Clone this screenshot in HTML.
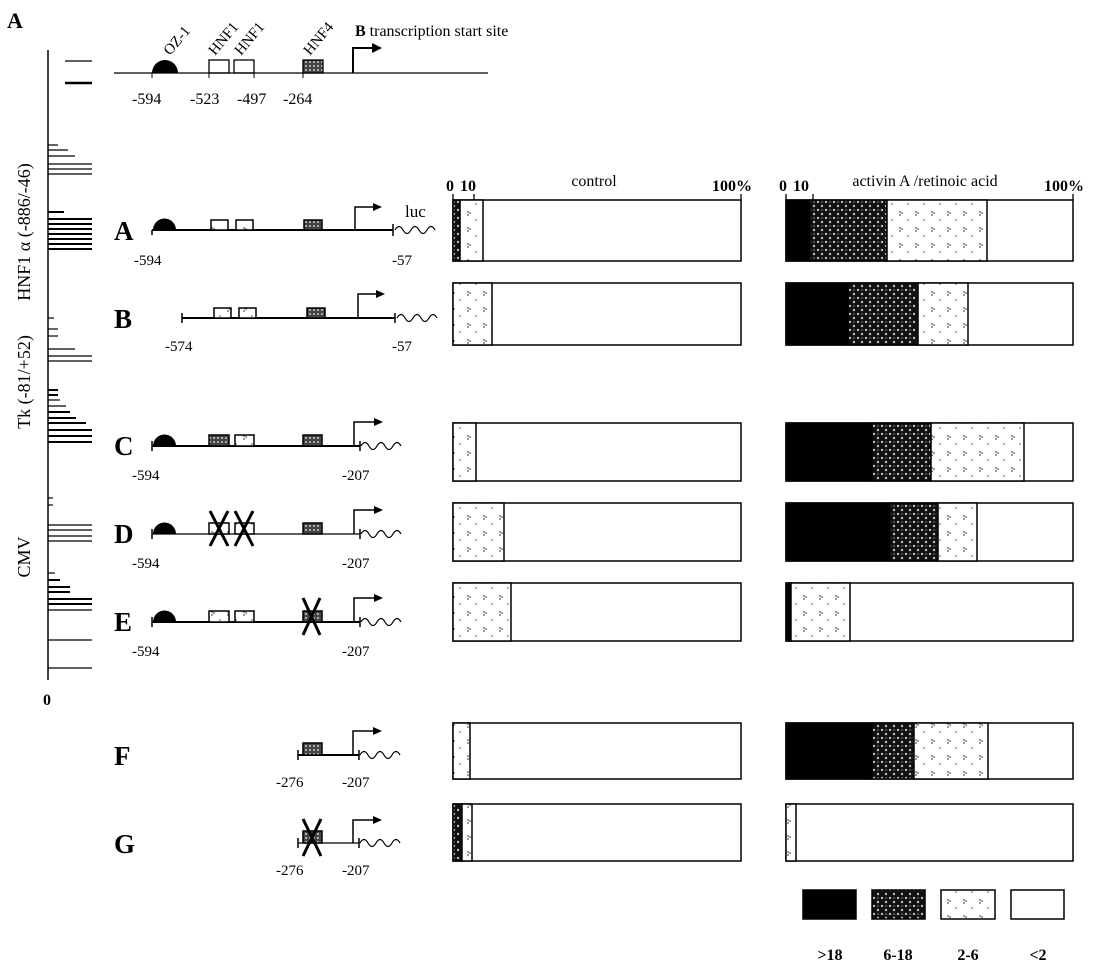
<!DOCTYPE html>
<html><head><meta charset="utf-8"><style>
html,body{margin:0;padding:0;background:#fff;}
svg{display:block;}
text{font-family:"Liberation Serif",serif;fill:#000;}
</style></head><body>
<svg width="1115" height="970" viewBox="0 0 1115 970" xmlns="http://www.w3.org/2000/svg">
<defs>
<pattern id="dk" width="8" height="8" patternUnits="userSpaceOnUse"><rect width="8" height="8" fill="#111"/><circle cx="2" cy="2" r="1.2" fill="#bbb"/><circle cx="6" cy="6" r="1.2" fill="#bbb"/><circle cx="6" cy="2" r="0.8" fill="#999"/></pattern>
<pattern id="dt" width="16" height="16" patternUnits="userSpaceOnUse"><rect width="16" height="16" fill="#fff"/><circle cx="4" cy="4" r="0.9" fill="#555"/><circle cx="6" cy="5" r="0.9" fill="#555"/><circle cx="4" cy="7" r="0.9" fill="#555"/><circle cx="12" cy="12" r="0.9" fill="#777"/></pattern>
<pattern id="bx" width="4" height="4" patternUnits="userSpaceOnUse"><rect width="4" height="4" fill="#444"/><circle cx="2" cy="2" r="1" fill="#ccc"/></pattern>
</defs>
<g stroke="#000" fill="none">
<line x1="48" y1="50" x2="48" y2="680" stroke-width="1.5"/>
<g stroke-width="1.2">
<line x1="65" y1="61" x2="92" y2="61"/><line x1="65" y1="83" x2="92" y2="83" stroke-width="2.5"/>
<line x1="48" y1="145" x2="58" y2="145"/><line x1="48" y1="150" x2="68" y2="150"/><line x1="48" y1="156" x2="75" y2="156"/>
<line x1="48" y1="164" x2="92" y2="164"/><line x1="48" y1="169" x2="92" y2="169"/><line x1="48" y1="174" x2="92" y2="174"/>
<line x1="48" y1="212" x2="64" y2="212" stroke-width="2"/>
<line x1="48" y1="219" x2="92" y2="219" stroke-width="2"/><line x1="48" y1="224" x2="92" y2="224" stroke-width="2"/><line x1="48" y1="229" x2="92" y2="229" stroke-width="2"/><line x1="48" y1="234" x2="92" y2="234" stroke-width="2"/><line x1="48" y1="239" x2="92" y2="239" stroke-width="2"/><line x1="48" y1="244" x2="92" y2="244" stroke-width="2"/><line x1="48" y1="249" x2="92" y2="249" stroke-width="2"/>
<line x1="48" y1="318" x2="54" y2="318"/><line x1="48" y1="329" x2="58" y2="329"/><line x1="48" y1="336" x2="58" y2="336"/>
<line x1="48" y1="349" x2="75" y2="349"/><line x1="48" y1="356" x2="92" y2="356"/><line x1="48" y1="361" x2="92" y2="361"/>
<line x1="48" y1="390" x2="58" y2="390" stroke-width="2"/><line x1="48" y1="395" x2="58" y2="395" stroke-width="2"/><line x1="48" y1="400" x2="60" y2="400"/><line x1="48" y1="406" x2="66" y2="406"/><line x1="48" y1="412" x2="70" y2="412" stroke-width="2"/><line x1="48" y1="418" x2="76" y2="418" stroke-width="2"/><line x1="48" y1="423" x2="86" y2="423" stroke-width="2"/><line x1="48" y1="430" x2="92" y2="430" stroke-width="2"/><line x1="48" y1="436" x2="92" y2="436" stroke-width="2"/><line x1="48" y1="442" x2="92" y2="442" stroke-width="2"/>
<line x1="48" y1="498" x2="53" y2="498"/><line x1="48" y1="505" x2="53" y2="505"/>
<line x1="48" y1="525" x2="92" y2="525"/><line x1="48" y1="530" x2="92" y2="530"/><line x1="48" y1="536" x2="92" y2="536"/><line x1="48" y1="541" x2="92" y2="541"/>
<line x1="48" y1="573" x2="55" y2="573"/><line x1="48" y1="580" x2="60" y2="580" stroke-width="2"/><line x1="48" y1="587" x2="70" y2="587" stroke-width="2"/><line x1="48" y1="592" x2="70" y2="592" stroke-width="2"/><line x1="48" y1="599" x2="92" y2="599" stroke-width="2"/><line x1="48" y1="604" x2="92" y2="604" stroke-width="2"/><line x1="48" y1="610" x2="92" y2="610"/>
<line x1="48" y1="640" x2="92" y2="640"/><line x1="48" y1="668" x2="92" y2="668"/>
</g>
<line x1="114" y1="73" x2="488" y2="73" stroke-width="1.2"/>
<line x1="353" y1="73" x2="353" y2="47" stroke-width="2"/><line x1="353" y1="48" x2="376" y2="48" stroke-width="2"/>
<rect x="209" y="60" width="20" height="13" stroke-width="1.3"/><rect x="234" y="60" width="20" height="13" stroke-width="1.3"/>
<rect x="303" y="60" width="20" height="13" fill="url(#bx)" stroke-width="1.3"/>
<line x1="152" y1="73" x2="152" y2="78"/><line x1="209" y1="73" x2="209" y2="78"/><line x1="254" y1="73" x2="254" y2="78"/><line x1="303" y1="73" x2="303" y2="78"/>
</g>
<path d="M152 73 A13 13 0 0 1 178 73 Z" fill="#000"/>
<path d="M372 43 L382 48 L372 53 Z" fill="#000"/>
<text font-size="15" transform="translate(170,56) rotate(-50)">OZ-1</text>
<text font-size="15" transform="translate(215,56) rotate(-50)">HNF1</text>
<text font-size="15" transform="translate(241,56) rotate(-50)">HNF1</text>
<text font-size="15" transform="translate(310,56) rotate(-50)">HNF4</text>
<text x="355" y="36" font-size="16"><tspan font-weight="bold">B</tspan> transcription start site</text>
<g font-size="16"><text x="132" y="104">-594</text><text x="190" y="104">-523</text><text x="237" y="104">-497</text><text x="283" y="104">-264</text></g>
<text x="7" y="28" font-size="22" font-weight="bold">A</text>
<text x="43" y="705" font-size="16" font-weight="bold">0</text>
<text font-size="18" transform="translate(30,232) rotate(-90)" text-anchor="middle">HNF1 α (-886/-46)</text>
<text font-size="18" transform="translate(30,382) rotate(-90)" text-anchor="middle">Tk (-81/+52)</text>
<text font-size="18" transform="translate(30,557) rotate(-90)" text-anchor="middle">CMV</text>

<g font-size="27" font-weight="bold">
<text x="114" y="240">A</text><text x="114" y="328">B</text><text x="114" y="455">C</text><text x="114" y="543">D</text><text x="114" y="631">E</text><text x="114" y="765">F</text><text x="114" y="853">G</text></g>

<g stroke="#000" fill="none" stroke-width="1.5">
<line x1="152" y1="230" x2="393" y2="230" stroke-width="2"/>
<line x1="152" y1="230" x2="152" y2="235"/>
<rect x="211" y="220" width="17" height="10" fill="url(#dt)"/><rect x="236" y="220" width="17" height="10" fill="url(#dt)"/><rect x="304" y="220" width="18" height="10" fill="url(#bx)"/>
<polyline points="355,230 355,207 376,207"/>
<line x1="393" y1="224" x2="393" y2="236"/>
<path d="M395 230 q4 -7 8 0 t8 0 t8 0 t8 0 t8 0" stroke-width="1.2"/>
</g>
<path d="M153 230 A11 11 0 0 1 176 230 Z" fill="#000"/><path d="M373 203 L382 207 L373 211 Z" fill="#000"/>
<text x="405" y="217" font-size="17">luc</text>
<text x="134" y="265" font-size="15">-594</text><text x="392" y="265" font-size="15">-57</text>
<g stroke="#000" fill="none" stroke-width="1.5">
<line x1="182" y1="318" x2="395" y2="318" stroke-width="2"/><line x1="182" y1="313" x2="182" y2="323"/>
<rect x="214" y="308" width="17" height="10" fill="url(#dt)"/><rect x="239" y="308" width="17" height="10" fill="url(#dt)"/><rect x="307" y="308" width="18" height="10" fill="url(#bx)"/>
<polyline points="358,318 358,294 379,294"/><line x1="395" y1="313" x2="395" y2="323"/>
<path d="M397 318 q4 -7 8 0 t8 0 t8 0 t8 0 t8 0" stroke-width="1.2"/>
</g>
<path d="M376 290 L385 294 L376 298 Z" fill="#000"/>
<text x="165" y="351" font-size="15">-574</text><text x="392" y="351" font-size="15">-57</text>

<g stroke="#000" fill="none" stroke-width="1.5">
<line x1="152" y1="446" x2="360" y2="446" stroke-width="2"/><line x1="152" y1="441" x2="152" y2="451"/>
<rect x="209" y="435" width="20" height="11" fill="url(#bx)"/><rect x="235" y="435" width="19" height="11" fill="url(#dt)"/><rect x="303" y="435" width="19" height="11" fill="url(#bx)"/>
<polyline points="354,446 354,422 377,422"/><line x1="360" y1="441" x2="360" y2="451"/>
<path d="M361 446 q4 -7 8 0 t8 0 t8 0 t8 0 t8 0" stroke-width="1.2"/>
<line x1="152" y1="534" x2="360" y2="534" stroke-width="1.2"/><line x1="152" y1="529" x2="152" y2="539"/>
<rect x="209" y="523" width="20" height="11" fill="url(#dt)"/><rect x="235" y="523" width="19" height="11" fill="url(#dt)"/><rect x="303" y="523" width="19" height="11" fill="url(#bx)"/>
<polyline points="354,534 354,510 377,510"/><line x1="360" y1="529" x2="360" y2="539"/>
<path d="M361 534 q4 -7 8 0 t8 0 t8 0 t8 0 t8 0" stroke-width="1.2"/>
<g stroke-width="3"><line x1="210" y1="511" x2="228" y2="546"/><line x1="228" y1="511" x2="210" y2="546"/><line x1="235" y1="511" x2="253" y2="546"/><line x1="253" y1="511" x2="235" y2="546"/></g>
<line x1="152" y1="622" x2="360" y2="622" stroke-width="2"/><line x1="152" y1="617" x2="152" y2="627"/>
<rect x="209" y="611" width="20" height="11" fill="url(#dt)"/><rect x="235" y="611" width="19" height="11" fill="url(#dt)"/><rect x="303" y="611" width="19" height="11" fill="url(#bx)"/>
<polyline points="354,622 354,598 377,598"/><line x1="360" y1="617" x2="360" y2="627"/>
<path d="M361 622 q4 -7 8 0 t8 0 t8 0 t8 0 t8 0" stroke-width="1.2"/>
<g stroke-width="3"><line x1="303" y1="598" x2="320" y2="635"/><line x1="320" y1="598" x2="303" y2="635"/></g>
<line x1="298" y1="755" x2="359" y2="755" stroke-width="2"/><line x1="298" y1="750" x2="298" y2="760"/>
<rect x="303" y="743" width="19" height="12" fill="url(#bx)"/>
<polyline points="353,755 353,731 376,731"/><line x1="359" y1="750" x2="359" y2="760"/>
<path d="M360 755 q4 -7 8 0 t8 0 t8 0 t8 0 t8 0" stroke-width="1.2"/>
<line x1="298" y1="843" x2="359" y2="843" stroke-width="1.2"/><line x1="298" y1="838" x2="298" y2="848"/>
<rect x="303" y="831" width="19" height="12" fill="url(#bx)"/>
<polyline points="353,843 353,820 376,820"/><line x1="359" y1="838" x2="359" y2="848"/>
<path d="M360 843 q4 -7 8 0 t8 0 t8 0 t8 0 t8 0" stroke-width="1.2"/>
<g stroke-width="3"><line x1="303" y1="819" x2="321" y2="856"/><line x1="321" y1="819" x2="303" y2="856"/></g>
</g>
<g fill="#000">
<path d="M153 446 A11 11 0 0 1 176 446 Z"/><path d="M153 534 A11 11 0 0 1 176 534 Z"/><path d="M153 622 A11 11 0 0 1 176 622 Z"/>
<path d="M374 418 L383 422 L374 426 Z"/><path d="M374 506 L383 510 L374 514 Z"/><path d="M374 594 L383 598 L374 602 Z"/><path d="M373 727 L382 731 L373 735 Z"/><path d="M373 816 L382 820 L373 824 Z"/>
</g>
<g font-size="15">
<text x="132" y="480">-594</text><text x="342" y="480">-207</text>
<text x="132" y="568">-594</text><text x="342" y="568">-207</text>
<text x="132" y="656">-594</text><text x="342" y="656">-207</text>
<text x="276" y="787">-276</text><text x="342" y="787">-207</text>
<text x="276" y="875">-276</text><text x="342" y="875">-207</text>
</g>

<text x="594" y="186" font-size="16" text-anchor="middle">control</text>
<text x="925" y="186" font-size="16" text-anchor="middle">activin A /retinoic acid</text>
<g font-size="16" font-weight="bold"><text x="446" y="191">0</text><text x="460" y="191">10</text><text x="712" y="191">100%</text>
<text x="779" y="191">0</text><text x="793" y="191">10</text><text x="1044" y="191">100%</text></g>
<g stroke="#000" stroke-width="1.3">
<line x1="453" y1="194" x2="453" y2="200"/><line x1="474" y1="194" x2="474" y2="200"/><line x1="741" y1="194" x2="741" y2="200"/>
<line x1="786" y1="194" x2="786" y2="200"/><line x1="813" y1="194" x2="813" y2="200"/><line x1="1073" y1="194" x2="1073" y2="200"/>
</g>

<g stroke="#000" stroke-width="1.5">
<rect x="453" y="200" width="288" height="61" fill="#fff"/>
<rect x="453" y="200" width="7" height="61" fill="url(#dk)"/><rect x="460" y="200" width="23" height="61" fill="url(#dt)"/>
<rect x="786" y="200" width="287" height="61" fill="#fff"/>
<rect x="786" y="200" width="24" height="61" fill="#000"/><rect x="810" y="200" width="77" height="61" fill="url(#dk)"/><rect x="887" y="200" width="100" height="61" fill="url(#dt)"/>
<rect x="453" y="283" width="288" height="62" fill="#fff"/><rect x="453" y="283" width="39" height="62" fill="url(#dt)"/>
<rect x="786" y="283" width="287" height="62" fill="#fff"/>
<rect x="786" y="283" width="62" height="62" fill="#000"/><rect x="848" y="283" width="70" height="62" fill="url(#dk)"/><rect x="918" y="283" width="50" height="62" fill="url(#dt)"/>
<rect x="453" y="423" width="288" height="58" fill="#fff"/><rect x="453" y="423" width="23" height="58" fill="url(#dt)"/>
<rect x="786" y="423" width="287" height="58" fill="#fff"/>
<rect x="786" y="423" width="86" height="58" fill="#000"/><rect x="872" y="423" width="59" height="58" fill="url(#dk)"/><rect x="931" y="423" width="93" height="58" fill="url(#dt)"/>
<rect x="453" y="503" width="288" height="58" fill="#fff"/><rect x="453" y="503" width="51" height="58" fill="url(#dt)"/>
<rect x="786" y="503" width="287" height="58" fill="#fff"/>
<rect x="786" y="503" width="104" height="58" fill="#000"/><rect x="890" y="503" width="48" height="58" fill="url(#dk)"/><rect x="938" y="503" width="39" height="58" fill="url(#dt)"/>
<rect x="453" y="583" width="288" height="58" fill="#fff"/><rect x="453" y="583" width="58" height="58" fill="url(#dt)"/>
<rect x="786" y="583" width="287" height="58" fill="#fff"/>
<rect x="786" y="583" width="5" height="58" fill="#000"/><rect x="791" y="583" width="59" height="58" fill="url(#dt)"/>
<rect x="453" y="723" width="288" height="56" fill="#fff"/><rect x="453" y="723" width="17" height="56" fill="url(#dt)"/>
<rect x="786" y="723" width="287" height="56" fill="#fff"/>
<rect x="786" y="723" width="86" height="56" fill="#000"/><rect x="872" y="723" width="42" height="56" fill="url(#dk)"/><rect x="914" y="723" width="74" height="56" fill="url(#dt)"/>
<rect x="453" y="804" width="288" height="57" fill="#fff"/><rect x="453" y="804" width="9" height="57" fill="url(#dk)"/><rect x="462" y="804" width="10" height="57" fill="url(#dt)"/>
<rect x="786" y="804" width="287" height="57" fill="#fff"/><rect x="786" y="804" width="10" height="57" fill="url(#dt)"/>
<rect x="803" y="890" width="53" height="29" fill="#000"/>
<rect x="872" y="890" width="53" height="29" fill="url(#dk)"/>
<rect x="941" y="890" width="54" height="29" fill="url(#dt)"/>
<rect x="1011" y="890" width="53" height="29" fill="#fff"/>
</g>
<g font-size="16" font-weight="bold" text-anchor="middle">
<text x="830" y="960">&gt;18</text><text x="898" y="960">6-18</text><text x="968" y="960">2-6</text><text x="1038" y="960">&lt;2</text>
</g>
</svg>
</body></html>
